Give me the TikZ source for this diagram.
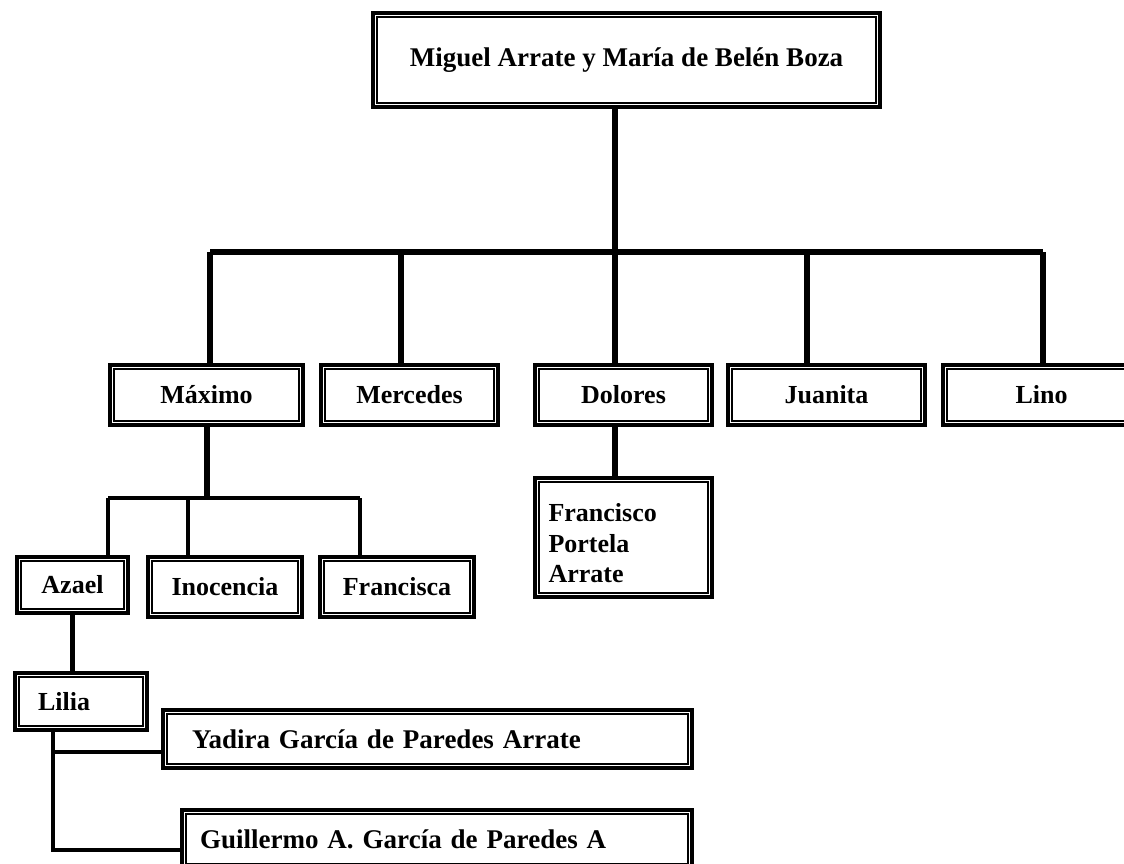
\documentclass[tikz,border=0pt]{standalone}
\usepackage{fontspec}
\setmainfont{Liberation Serif}
\begin{document}
\begin{tikzpicture}[x=1pt,y=-1pt,
  fam/.style={draw, line width=4pt, fill=white, inner sep=0pt, anchor=center,
    font=\fontsize{26}{31}\selectfont\bfseries},
  big/.style={font=\fontsize{27}{31}\selectfont\bfseries},
  conn/.style={line width=5.5pt},
  subconn/.style={line width=4.5pt}]
\useasboundingbox[fill=white] (0,0) rectangle (1124,864);
% nodes
\node[fam, big, minimum width=507pt, minimum height=94pt] (top) at (626.5,60) {Miguel Arrate y María de Belén Boza};
\node[fam, minimum width=193pt, minimum height=60pt] (maximo) at (206.5,395) {Máximo};
\node[fam, minimum width=177pt, minimum height=60pt] (mercedes) at (409.5,395) {Mercedes};
\node[fam, minimum width=177pt, minimum height=60pt] (dolores) at (623.5,395) {Dolores};
\node[fam, minimum width=197pt, minimum height=60pt] (juanita) at (826.5,395) {Juanita};
\node[fam, minimum width=197pt, minimum height=60pt] (lino) at (1041.5,395) {Lino};
\node[fam, minimum width=111pt, minimum height=56pt] (azael) at (72.5,585) {Azael};
\node[fam, minimum width=154pt, minimum height=60pt] (inocencia) at (225,587) {Inocencia};
\node[fam, minimum width=154pt, minimum height=60pt] (francisca) at (397,587) {Francisca};
\node[fam, minimum width=177pt, minimum height=119pt, align=left, text width=150pt, font=\fontsize{26}{30.5}\selectfont\bfseries] (francisco) at (623.5,537.5) {\rule{0pt}{30pt}Francisco\\Portela\\Arrate};
\node[fam, minimum width=132pt, minimum height=57pt, text width=86pt, align=left] (lilia) at (81,701.5) {Lilia};
\node[fam, big, minimum width=529pt, minimum height=58pt, text width=471pt, align=left] (yadira) at (427.5,739) {Yadira García de Paredes Arrate};
\node[fam, big, minimum width=510pt, minimum height=58pt, text width=474pt, align=left] (guillermo) at (437,839) {Guillermo A. García de Paredes A};
% inner frame lines
\foreach \n in {top,maximo,mercedes,dolores,juanita,lino,azael,inocencia,francisca,francisco,lilia,yadira,guillermo}
  \draw[line width=1.1pt] ([shift={(6,6)}]\n.north west) rectangle ([shift={(-6,-6)}]\n.south east);
% junction coordinates
\coordinate (j0) at (615,252);
\coordinate (barL) at (210,252);
\coordinate (barR) at (1043,252);
\coordinate (dm) at (401,252);
\coordinate (dj) at (807,252);
\coordinate (m0) at (207,498);
\coordinate (mL) at (108,498);
\coordinate (mI) at (188,498);
\coordinate (mR) at (360,498);
\coordinate (l1) at (53,752);
\coordinate (l2) at (53,850);
% connectors
\draw[conn] (top.south -| j0) -- (j0) -- (j0 |- dolores.north);
\draw[conn] (barL) -- (barR);
\draw[conn] (barL) -- (barL |- maximo.north);
\draw[conn] (dm) -- (dm |- mercedes.north);
\draw[conn] (dj) -- (dj |- juanita.north);
\draw[conn] (barR) -- (barR |- lino.north);
\draw[conn] (maximo.south -| m0) -- (m0);
\draw[subconn] (mL) -- (mR);
\draw[subconn] (mL) -- (mL |- azael.north);
\draw[subconn] (mI) -- (mI |- inocencia.north);
\draw[subconn] (mR) -- (mR |- francisca.north);
\draw[conn] (dolores.south -| j0) -- (francisco.north -| j0);
\draw[subconn] (azael.south) -- (lilia.north -| azael.south);
\draw[subconn] (lilia.south -| l1) -- (l2) -- (l2 -| guillermo.west);
\draw[subconn] (l1) -- (l1 -| yadira.west);
\end{tikzpicture}
\end{document}
